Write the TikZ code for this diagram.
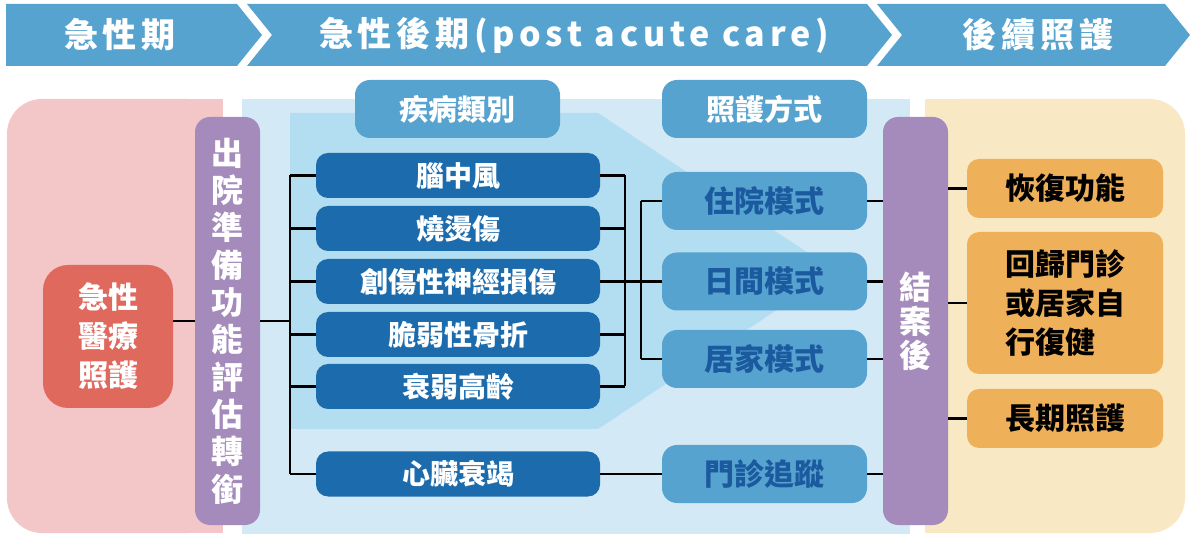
\documentclass[tikz,border=0pt]{standalone}
\usepackage{fontspec}
\setmainfont{Noto Sans CJK TC}
\newfontfamily\bannerfont{Noto Sans CJK TC}[LetterSpace=14]
\definecolor{bannerblue}{HTML}{56A3CF}
\definecolor{pinkbg}{HTML}{F3C6C8}
\definecolor{redbox}{HTML}{E0695D}
\definecolor{purplebox}{HTML}{A58BBB}
\definecolor{lightpanel}{HTML}{D4E9F6}
\definecolor{funnel}{HTML}{B3DDF0}
\definecolor{darkblue}{HTML}{1C6CAD}
\definecolor{midblue}{HTML}{56A3CF}
\definecolor{modetext}{HTML}{1B5A9E}
\definecolor{creambg}{HTML}{F9E8C4}
\definecolor{orangebox}{HTML}{EFB05A}
\tikzset{
  conn/.style={draw=black, line width=2.5pt},
  banner/.style={fill=bannerblue},
  bannertext/.style={text=white, font=\bannerfont\bfseries\fontsize{34}{40}\selectfont, inner sep=0pt},
  disbox/.style={rounded corners=12pt, fill=darkblue, text=white, minimum width=284pt, minimum height=45pt, inner sep=0pt, font=\fontsize{28}{32}\selectfont\bfseries},
  headbox/.style={rounded corners=15pt, fill=midblue, text=white, minimum width=205pt, minimum height=58pt, inner sep=0pt, font=\fontsize{29}{32}\selectfont\bfseries},
  modebox/.style={rounded corners=15pt, fill=midblue, text=modetext, minimum width=205pt, minimum height=58pt, inner sep=0pt, font=\fontsize{30}{32}\selectfont\bfseries},
  vbox/.style={rounded corners=15pt, fill=purplebox, text=white, minimum width=65pt, minimum height=408pt, inner sep=0pt, align=center},
  orbox/.style={rounded corners=12pt, fill=orangebox, text=black, minimum width=196pt, inner sep=0pt, font=\fontsize{30}{39}\selectfont\bfseries},
}
\begin{document}
\begin{tikzpicture}[x=1pt,y=-1pt]
\useasboundingbox (0,0) rectangle (1192,534);
% banner
\fill[banner] (6,4) -- (237,4) -- (262,35) -- (237,66) -- (6,66) -- cycle;
\fill[banner] (247,4) -- (867,4) -- (892,35) -- (867,66) -- (247,66) -- (272,35) -- cycle;
\fill[banner] (877,4) -- (1165,4) -- (1190,35) -- (1165,66) -- (877,66) -- (902,35) -- cycle;
\node[bannertext] (b1) at (120,35) {急性期};
\node[bannertext] (b2) at (574,35) {急性後期(post acute care)};
\node[bannertext] (b3) at (1038,35) {後續照護};
% panels
\fill[pinkbg, rounded corners=35pt] (7,99) rectangle (223,533);
\fill[pinkbg] (180,99) rectangle (223,533);
\fill[lightpanel] (242,99) rectangle (910,534);
\fill[funnel] (290,113) -- (598,113) -- (835,271) -- (598,429) -- (290,429) -- cycle;
\fill[creambg, rounded corners=35pt] (925,99) rectangle (1185,533);
\fill[creambg] (925,99) rectangle (970,533);
% nodes
\node[rounded corners=25pt, fill=redbox, text=white, minimum width=130pt, minimum height=143pt, inner sep=0pt, align=center, font=\fontsize{30}{39}\selectfont\bfseries] (red) at (108,336.5) {急性\\醫療\\照護};
\node[vbox, font=\fontsize{32}{37.3}\selectfont\bfseries] (pl) at (227.5,321) {出\\院\\準\\備\\功\\能\\評\\估\\轉\\銜};
\node[headbox] (h1) at (457.5,109) {疾病類別};
\node[headbox] (h2) at (764.5,109) {照護方式};
\node[disbox] (d1) at (458,175.5) {腦中風};
\node[disbox] (d2) at (458,228.5) {燒燙傷};
\node[disbox] (d3) at (458,281.5) {創傷性神經損傷};
\node[disbox] (d4) at (458,334.5) {脆弱性骨折};
\node[disbox] (d5) at (458,386.5) {衰弱高齡};
\node[disbox] (d6) at (458,474) {心臟衰竭};
\node[modebox] (m1) at (764.5,201) {住院模式};
\node[modebox] (m2) at (764.5,281.5) {日間模式};
\node[modebox] (m3) at (764.5,359) {居家模式};
\node[modebox] (m4) at (764.5,474) {門診追蹤};
\node[vbox, font=\fontsize{32}{34}\selectfont\bfseries] (pr) at (915.5,321) {結\\案\\後};
\node[orbox, minimum height=59pt] (o1) at (1065,188.5) {恢復功能};
\node[orbox, minimum height=142pt, align=left] (o2) at (1065,303) {回歸門診\\或居家自\\行復健};
\node[orbox, minimum height=59pt] (o3) at (1065,418.5) {長期照護};
% junction coordinates
\coordinate (jl) at (290,321);
\coordinate (jr) at (625,281.5);
\coordinate (jm) at (641,281.5);
% connectors
\draw[conn] (pl.west) -- (pl.west -| red.east);
\draw[conn] (pl.east) -- (jl);
\draw[conn] (jl |- d1.west) -- (jl |- d6.west);
\foreach \n in {d1,d2,d3,d4,d5,d6} { \draw[conn] (jl |- \n.west) -- (\n.west); }
\draw[conn] (jr |- d1.east) -- (jr |- d5.east);
\foreach \n in {d1,d2,d4,d5} { \draw[conn] (\n.east) -- (jr |- \n.east); }
\draw[conn] (d3.east) -- (m2.west);
\draw[conn] (jm |- m1.west) -- (jm |- m3.west);
\draw[conn] (jm |- m1.west) -- (m1.west);
\draw[conn] (jm |- m3.west) -- (m3.west);
\draw[conn] (d6.east) -- (m4.west);
\foreach \n in {m1,m2,m3,m4} { \draw[conn] (\n.east) -- (\n.east -| pr.west); }
\foreach \n in {o1,o2,o3} { \draw[conn] (\n.west -| pr.east) -- (\n.west); }
\end{tikzpicture}
\end{document}
